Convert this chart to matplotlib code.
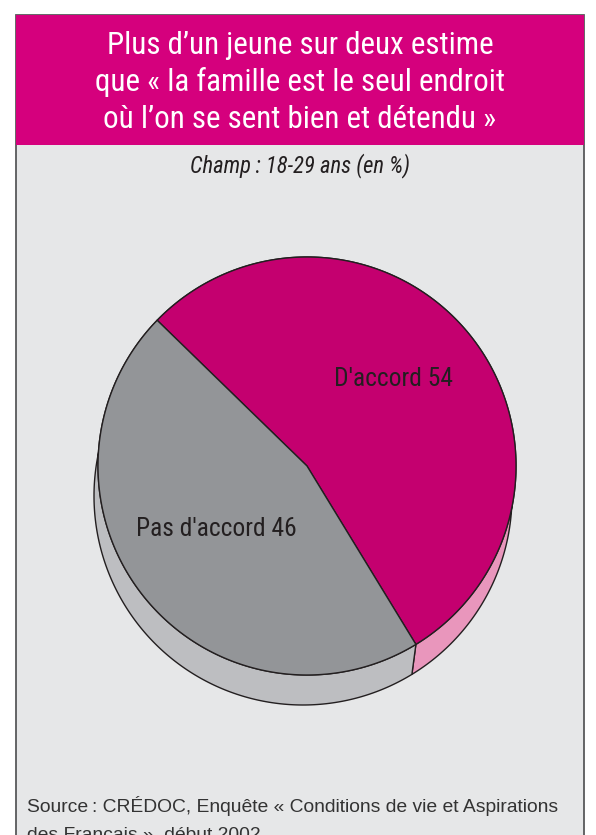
import numpy as np
import matplotlib.pyplot as plt
from matplotlib.patches import Polygon, Rectangle

# Survey answers (%)
labels = ["D'accord", "Pas d'accord"]
values = [54, 46]
top_colors = ["#C4006F", "#939598"]
side_colors = ["#E996BC", "#BDBEC1"]

title_lines = [
    "Plus d\u2019un jeune sur deux estime",
    "que \u00ab la famille est le seul endroit",
    "o\u00f9 l\u2019on se sent bien et d\u00e9tendu \u00bb",
]
subtitle = "Champ\u202f: 18-29 ans (en %)"
source_lines = [
    "Source\u202f: CR\u00c9DOC, Enqu\u00eate \u00ab Conditions de vie et Aspirations",
    "des Fran\u00e7ais \u00bb, d\u00e9but 2002",
]

W, H = 596, 835
plt.rcParams["font.family"] = ["Roboto Condensed", "DejaVu Sans"]
fig = plt.figure(figsize=(W / 100, H / 100), dpi=100)
ax = fig.add_axes([0, 0, 1, 1])
ax.set_xlim(0, W)
ax.set_ylim(H, 0)
ax.axis("off")

edge = "#231F20"

# panel frame and title band
ax.add_patch(Rectangle((15.5, 15), 568, 840, facecolor="#E6E7E8", edgecolor="#58595B", lw=1.3, zorder=0))
ax.add_patch(Rectangle((15.5, 15), 568, 130, facecolor="#D5007D", edgecolor="none", zorder=1))
for y, line in zip([45, 82, 120], title_lines):
    ax.text(300, y, line, color="white", fontsize=22.3, ha="center", va="center", zorder=2)
ax.text(300, 166, subtitle, color=edge, fontsize=16.3, style="italic",
        ha="center", va="center", zorder=2)
for y, line in zip([806, 836], source_lines):
    ax.text(27, y, line, color="#333333", fontsize=13.9, ha="left", va="center",
            family=["Liberation Sans", "DejaVu Sans"], zorder=2)

# pie geometry (pixels): top face and the shifted base of the disc
cx, cy, r = 307, 466, 209
dx, dy = -4, 30
start = 135.8


def arc(a0, a1, ox=0, oy=0, n=200):
    a = np.radians(np.linspace(a0, a1, n))
    return np.column_stack([cx + ox + r * np.cos(a), cy + oy - r * np.sin(a)])


# slice angle ranges, clockwise from the start angle
bounds = []
a = start
for v in values:
    span = v / sum(values) * 360
    bounds.append((a - span, a))
    a -= span

# side bands first, then the top wedges over them
for (a0, a1), col in zip(bounds, side_colors):
    top = arc(a0, a1)
    bot = arc(a0, a1, dx, dy)[::-1]
    ax.add_patch(Polygon(np.vstack([top, bot]), closed=True, facecolor=col,
                         edgecolor=edge, lw=1.0, zorder=3))

for (a0, a1), col in zip(bounds, top_colors):
    pts = np.vstack([[cx, cy], arc(a0, a1)])
    ax.add_patch(Polygon(pts, closed=True, facecolor=col, edgecolor=edge,
                         lw=1.0, joinstyle="miter", zorder=4))

ax.text(394, 379, f"{labels[0]} {values[0]}", color=edge, fontsize=18.4,
        ha="center", va="center", zorder=5)
ax.text(216, 529, f"{labels[1]} {values[1]}", color=edge, fontsize=18.4,
        ha="center", va="center", zorder=5)

fig.savefig("out.png", dpi=100, facecolor="white")
